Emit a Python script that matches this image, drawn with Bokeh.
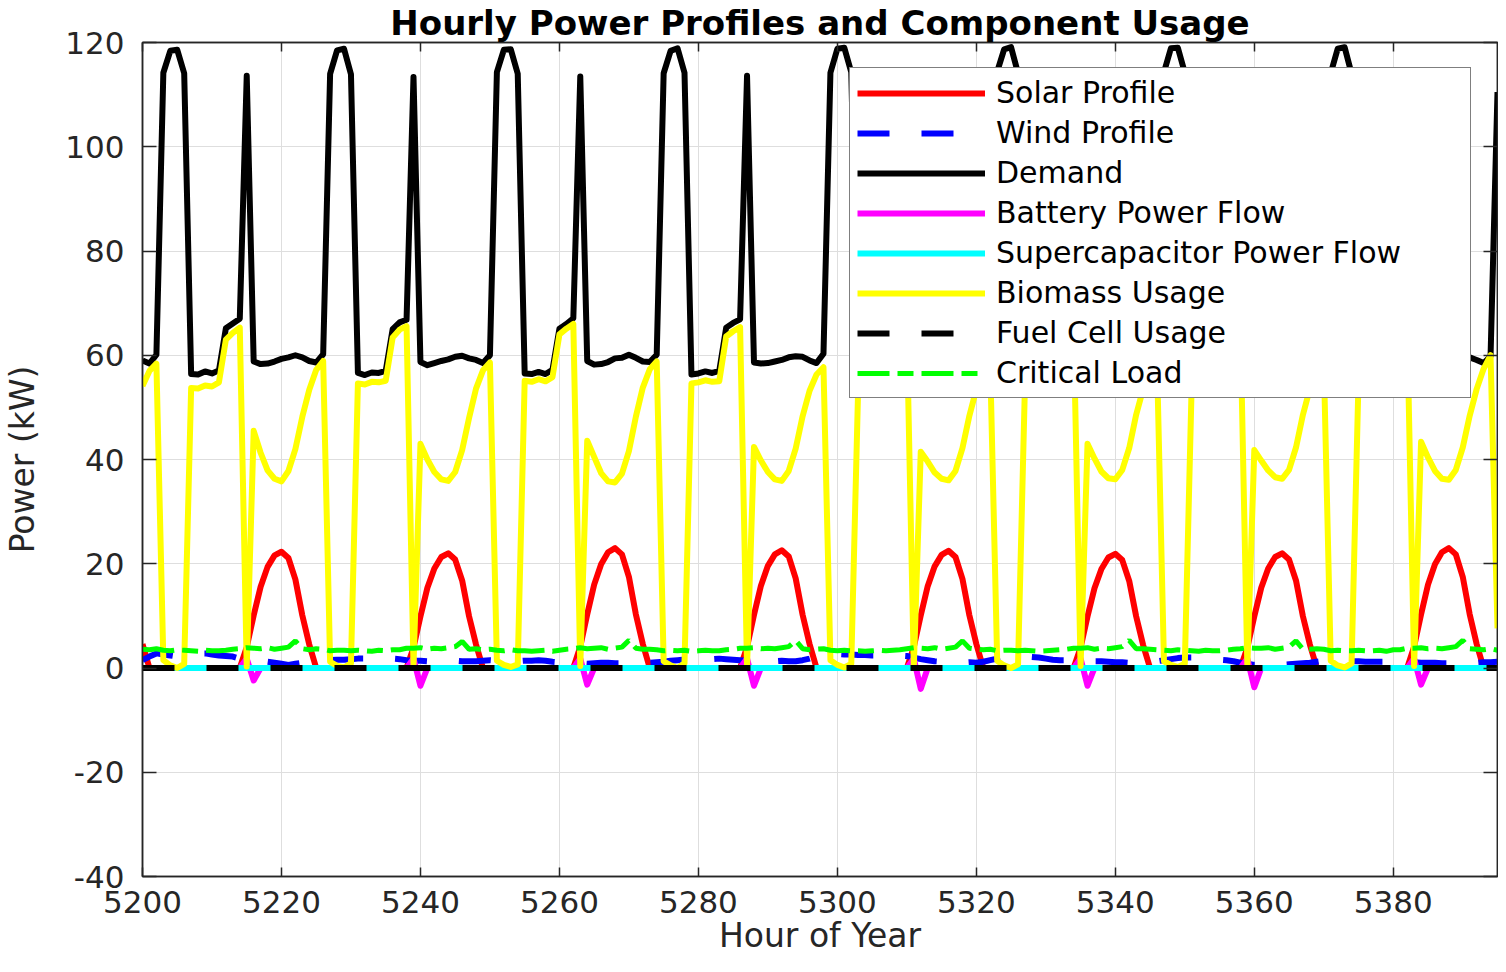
from bokeh.plotting import figure
from bokeh.models import Range1d, LinearAxis, FixedTicker, Legend, LegendItem
from bokeh.embed import file_html
from bokeh.resources import INLINE

# ---------------- data (hour of year 5200 .. 5395) ----------------
hours = list(range(5200, 5396))

solar = [
    4.6, 0.0, 0.0, 0.0, 0.0, 0.0, 0.0, 0.0, 0.0, 0.0, 0.0, 0.0, 0.0, 0.0, 0.0, 4.0, 10.1, 15.6, 19.4, 21.6, 22.3, 21.1, 17.0, 10.1,
    4.5, 0.0, 0.0, 0.0, 0.0, 0.0, 0.0, 0.0, 0.0, 0.0, 0.0, 0.0, 0.0, 0.0, 0.0, 3.9, 9.9, 15.4, 19.1, 21.3, 22.0, 20.8, 16.8, 9.9,
    4.5, 0.0, 0.0, 0.0, 0.0, 0.0, 0.0, 0.0, 0.0, 0.0, 0.0, 0.0, 0.0, 0.0, 0.0, 4.1, 10.3, 16.0, 19.9, 22.2, 23.0, 21.8, 17.5, 10.3,
    4.6, 0.0, 0.0, 0.0, 0.0, 0.0, 0.0, 0.0, 0.0, 0.0, 0.0, 0.0, 0.0, 0.0, 0.0, 4.0, 10.2, 15.8, 19.6, 21.8, 22.6, 21.4, 17.2, 10.2,
    4.6, 0.0, 0.0, 0.0, 0.0, 0.0, 0.0, 0.0, 0.0, 0.0, 0.0, 0.0, 0.0, 0.0, 0.0, 4.0, 10.1, 15.7, 19.5, 21.7, 22.5, 21.3, 17.1, 10.1,
    4.6, 0.0, 0.0, 0.0, 0.0, 0.0, 0.0, 0.0, 0.0, 0.0, 0.0, 0.0, 0.0, 0.0, 0.0, 3.9, 9.9, 15.3, 19.0, 21.2, 21.9, 20.7, 16.7, 9.9,
    4.4, 0.0, 0.0, 0.0, 0.0, 0.0, 0.0, 0.0, 0.0, 0.0, 0.0, 0.0, 0.0, 0.0, 0.0, 3.9, 9.9, 15.4, 19.1, 21.3, 22.0, 20.8, 16.8, 9.9,
    4.5, 0.0, 0.0, 0.0, 0.0, 0.0, 0.0, 0.0, 0.0, 0.0, 0.0, 0.0, 0.0, 0.0, 0.0, 4.1, 10.3, 16.0, 19.9, 22.2, 23.0, 21.8, 17.5, 10.3,
    4.6, 0.0, 0.0, 0.0,
]

wind = [
    1.5, 2.2, 2.8, 2.6, 2.4, 2.2, 2.3, 2.5, 2.8, 2.8, 2.6, 2.4, 2.3, 2.2, 1.8, 1.6, 1.5, 1.4, 1.2, 1.0, 0.8, 0.6, 0.8, 1.0,
    1.2, 1.3, 1.4, 1.5, 1.6, 1.6, 1.7, 1.8, 1.8, 1.7, 1.8, 1.9, 1.8, 1.7, 1.5, 1.4, 1.4, 1.3, 1.2, 1.3, 1.4, 1.4, 1.3, 1.3,
    1.3, 1.4, 1.5, 1.4, 1.4, 1.3, 1.3, 1.4, 1.4, 1.5, 1.4, 1.2, 1.1, 1.0, 1.0, 0.9, 0.8, 0.9, 1.0, 1.0, 0.9, 0.9, 0.9, 1.0,
    0.9, 1.0, 1.1, 1.2, 1.4, 1.5, 1.6, 1.7, 1.7, 1.7, 1.7, 1.8, 1.7, 1.6, 1.5, 1.4, 1.4, 1.3, 1.3, 1.3, 1.4, 1.3, 1.3, 1.5,
    1.8, 2.2, 2.5, 2.6, 2.7, 2.6, 2.6, 2.5, 2.5, 2.4, 2.4, 2.4, 2.5, 2.4, 2.3, 2.0, 1.7, 1.5, 1.3, 1.2, 1.0, 1.0, 1.0, 1.1,
    1.0, 1.2, 1.5, 1.8, 2.0, 2.3, 2.3, 2.2, 2.1, 2.0, 1.8, 1.6, 1.5, 1.5, 1.4, 1.4, 1.4, 1.3, 1.3, 1.2, 1.1, 1.1, 1.0, 1.0,
    1.1, 1.2, 1.3, 1.5, 1.7, 1.9, 2.0, 2.0, 1.9, 1.9, 1.8, 1.6, 1.5, 1.3, 1.0, 0.8, 0.6, 0.6, 0.6, 0.6, 0.6, 0.7, 0.8, 0.9,
    1.0, 1.2, 1.4, 1.4, 1.4, 1.3, 1.3, 1.3, 1.2, 1.2, 1.2, 1.2, 1.2, 1.2, 1.1, 1.1, 1.0, 1.0, 1.0, 0.9, 0.9, 0.9, 1.0, 1.0,
    1.0, 1.1, 1.1, 1.2,
]

demand = [
    59.0, 58.4, 60.1, 114.2, 118.4, 118.6, 114.1, 56.4, 56.3, 56.9, 56.5, 57.1, 65.2, 66.1, 67.0, 113.6, 58.8, 58.3, 58.4, 58.8, 59.3, 59.6, 60.0, 59.6,
    58.9, 58.6, 60.2, 114.0, 118.5, 118.8, 113.9, 56.6, 56.2, 56.7, 56.6, 57.0, 65.0, 66.3, 66.8, 113.4, 58.7, 58.1, 58.5, 58.9, 59.2, 59.7, 59.9, 59.4,
    59.1, 58.5, 60.0, 114.3, 118.6, 118.7, 114.0, 56.5, 56.4, 56.8, 56.4, 57.2, 65.1, 66.0, 67.1, 113.5, 58.9, 58.2, 58.3, 58.7, 59.4, 59.5, 60.1, 59.5,
    58.8, 58.7, 60.1, 114.1, 118.4, 118.9, 114.2, 56.3, 56.5, 56.9, 56.6, 57.0, 65.3, 66.2, 66.9, 113.6, 58.6, 58.4, 58.5, 58.8, 59.1, 59.6, 59.8, 59.7,
    59.0, 58.5, 60.3, 114.2, 118.8, 119.0, 114.3, 56.6, 56.3, 56.7, 56.5, 57.1, 65.0, 66.1, 67.0, 113.5, 58.7, 58.2, 58.4, 58.9, 59.3, 59.5, 60.0, 59.5,
    59.1, 58.6, 60.2, 114.4, 118.7, 119.1, 114.1, 56.4, 56.4, 56.8, 56.6, 57.0, 65.2, 66.3, 67.1, 113.4, 58.8, 58.3, 58.6, 58.8, 59.2, 59.7, 59.9, 59.6,
    58.9, 58.4, 60.0, 114.3, 118.9, 119.0, 114.2, 56.5, 56.2, 56.9, 56.5, 57.2, 65.1, 66.0, 66.9, 113.6, 58.6, 58.1, 58.5, 58.9, 59.4, 59.6, 60.1, 59.4,
    59.0, 58.7, 60.1, 114.1, 118.8, 119.1, 114.0, 56.6, 56.3, 56.7, 56.6, 57.0, 65.3, 66.2, 67.0, 113.5, 58.7, 58.3, 58.4, 58.7, 59.3, 59.5, 59.9, 59.6,
    59.1, 58.5, 59.8, 110.5,
]

battery = [
    0, 0, 0, 0, 0, 0, 0, 0, 0, 0, 0, 0, 0, 0, 0, 1.8, -2.4, 0, 0, 0, 0, 0, 0, 0,
    0, 0, 0, 0, 0, 0, 0, 0, 0, 0, 0, 0, 0, 0, 0, 1.8, -3.4, 0, 0, 0, 0, 0, 0, 0,
    0, 0, 0, 0, 0, 0, 0, 0, 0, 0, 0, 0, 0, 0, 0, 1.8, -3.2, 0, 0, 0, 0, 0, 0, 0,
    0, 0, 0, 0, 0, 0, 0, 0, 0, 0, 0, 0, 0, 0, 0, 1.8, -3.4, 0, 0, 0, 0, 0, 0, 0,
    0, 0, 0, 0, 0, 0, 0, 0, 0, 0, 0, 0, 0, 0, 0, 1.8, -4.0, 0, 0, 0, 0, 0, 0, 0,
    0, 0, 0, 0, 0, 0, 0, 0, 0, 0, 0, 0, 0, 0, 0, 1.8, -3.4, 0, 0, 0, 0, 0, 0, 0,
    0, 0, 0, 0, 0, 0, 0, 0, 0, 0, 0, 0, 0, 0, 0, 1.8, -3.7, 0, 0, 0, 0, 0, 0, 0,
    0, 0, 0, 0, 0, 0, 0, 0, 0, 0, 0, 0, 0, 0, 0, 1.8, -3.2, 0, 0, 0, 0, 0, 0, 0,
    0, 0, 0, 0,
]

supercap = [
    0, 0, 0, 0, 0, 0, 0, 0, 0, 0, 0, 0, 0, 0, 0, 0, 0, 0, 0, 0, 0, 0, 0, 0,
    0, 0, 0, 0, 0, 0, 0, 0, 0, 0, 0, 0, 0, 0, 0, 0, 0, 0, 0, 0, 0, 0, 0, 0,
    0, 0, 0, 0, 0, 0, 0, 0, 0, 0, 0, 0, 0, 0, 0, 0, 0, 0, 0, 0, 0, 0, 0, 0,
    0, 0, 0, 0, 0, 0, 0, 0, 0, 0, 0, 0, 0, 0, 0, 0, 0, 0, 0, 0, 0, 0, 0, 0,
    0, 0, 0, 0, 0, 0, 0, 0, 0, 0, 0, 0, 0, 0, 0, 0, 0, 0, 0, 0, 0, 0, 0, 0,
    0, 0, 0, 0, 0, 0, 0, 0, 0, 0, 0, 0, 0, 0, 0, 0, 0, 0, 0, 0, 0, 0, 0, 0,
    0, 0, 0, 0, 0, 0, 0, 0, 0, 0, 0, 0, 0, 0, 0, 0, 0, 0, 0, 0, 0, 0, 0, 0,
    0, 0, 0, 0, 0, 0, 0, 0, 0, 0, 0, 0, 0, 0, 0, 0, 0, 0, 0, 0, 0, 0, 0, 0,
    0, 0, 0, 0,
]

biomass = [
    54.1, 57.0, 58.4, 1.5, 0.5, 0.0, 0.8, 53.7, 53.6, 54.2, 54.0, 54.8, 63.0, 64.3, 65.3, 0.3, 45.5, 41.3, 37.9, 36.3, 35.8, 37.8, 42.0, 48.2,
    53.4, 57.2, 58.9, 1.2, 0.4, 0.1, 0.9, 54.6, 54.4, 54.9, 54.8, 55.1, 63.4, 64.9, 65.6, 0.5, 43.0, 40.0, 37.6, 36.2, 35.9, 37.6, 41.8, 48.0,
    53.6, 57.1, 58.6, 1.4, 0.6, 0.2, 0.7, 55.1, 54.9, 55.4, 55.0, 55.8, 64.0, 65.1, 66.0, 0.4, 43.6, 40.5, 37.4, 35.8, 35.6, 37.3, 41.6, 48.2,
    53.8, 57.3, 58.8, 1.3, 0.5, 0.0, 0.9, 54.6, 54.8, 55.2, 54.9, 55.0, 63.6, 64.6, 65.4, 0.3, 42.4, 39.8, 37.6, 36.2, 35.9, 37.8, 42.1, 48.3,
    53.2, 56.3, 57.7, 1.5, 0.6, 0.1, 0.8, 54.1, 53.9, 54.3, 54.1, 54.7, 62.5, 63.8, 64.7, 0.2, 41.5, 39.6, 37.5, 36.3, 36.0, 37.8, 42.2, 48.4,
    53.5, 57.2, 58.0, 1.4, 0.5, 0.0, 0.7, 54.6, 54.6, 55.3, 55.2, 55.6, 63.6, 65.0, 65.7, 0.4, 43.0, 40.2, 37.7, 36.4, 36.2, 38.0, 42.2, 48.6,
    53.5, 57.3, 58.7, 1.3, 0.6, 0.2, 0.8, 54.9, 54.8, 55.4, 55.2, 55.6, 63.7, 64.6, 65.5, 0.3, 41.8, 39.8, 37.9, 36.6, 36.3, 38.0, 42.3, 48.6,
    53.6, 57.5, 58.9, 1.4, 0.5, 0.1, 0.9, 55.3, 55.1, 55.6, 55.4, 55.9, 64.3, 65.2, 65.9, 0.4, 43.4, 40.4, 37.8, 36.3, 36.1, 38.0, 42.3, 48.4,
    53.5, 57.4, 60.0, 7.6,
]

fuel_cell = [
    0, 0, 0, 0, 0, 0, 0, 0, 0, 0, 0, 0, 0, 0, 0, 0, 0, 0, 0, 0, 0, 0, 0, 0,
    0, 0, 0, 0, 0, 0, 0, 0, 0, 0, 0, 0, 0, 0, 0, 0, 0, 0, 0, 0, 0, 0, 0, 0,
    0, 0, 0, 0, 0, 0, 0, 0, 0, 0, 0, 0, 0, 0, 0, 0, 0, 0, 0, 0, 0, 0, 0, 0,
    0, 0, 0, 0, 0, 0, 0, 0, 0, 0, 0, 0, 0, 0, 0, 0, 0, 0, 0, 0, 0, 0, 0, 0,
    0, 0, 0, 0, 0, 0, 0, 0, 0, 0, 0, 0, 0, 0, 0, 0, 0, 0, 0, 0, 0, 0, 0, 0,
    0, 0, 0, 0, 0, 0, 0, 0, 0, 0, 0, 0, 0, 0, 0, 0, 0, 0, 0, 0, 0, 0, 0, 0,
    0, 0, 0, 0, 0, 0, 0, 0, 0, 0, 0, 0, 0, 0, 0, 0, 0, 0, 0, 0, 0, 0, 0, 0,
    0, 0, 0, 0, 0, 0, 0, 0, 0, 0, 0, 0, 0, 0, 0, 0, 0, 0, 0, 0, 0, 0, 0, 0,
    0, 0, 0, 0,
]

critical = [
    3.6, 3.5, 3.7, 3.4, 3.3, 3.5, 3.4, 3.3, 3.2, 3.4, 3.3, 3.3, 3.4, 3.6, 3.7, 3.9, 3.8, 3.7, 3.9, 3.6, 3.8, 4.0, 5.2, 3.7,
    3.5, 3.7, 3.6, 3.3, 3.4, 3.4, 3.3, 3.4, 3.3, 3.2, 3.4, 3.3, 3.5, 3.5, 3.8, 3.8, 3.9, 3.6, 3.8, 3.7, 3.9, 4.1, 5.1, 3.6,
    3.7, 3.5, 3.6, 3.4, 3.3, 3.5, 3.3, 3.3, 3.2, 3.3, 3.4, 3.2, 3.4, 3.6, 3.7, 3.9, 3.7, 3.8, 3.9, 3.6, 3.8, 4.0, 5.3, 3.8,
    3.6, 3.6, 3.5, 3.3, 3.4, 3.3, 3.4, 3.2, 3.3, 3.4, 3.3, 3.3, 3.5, 3.6, 3.8, 3.8, 3.9, 3.7, 3.8, 3.7, 3.9, 4.1, 5.3, 3.7,
    3.5, 3.6, 3.7, 3.4, 3.3, 3.4, 3.3, 3.3, 3.2, 3.3, 3.4, 3.3, 3.4, 3.5, 3.7, 3.9, 3.8, 3.7, 3.9, 3.6, 3.8, 4.0, 5.2, 3.8,
    3.6, 3.5, 3.6, 3.3, 3.4, 3.4, 3.3, 3.4, 3.3, 3.2, 3.3, 3.4, 3.5, 3.6, 3.8, 3.8, 3.9, 3.6, 3.8, 3.7, 3.9, 4.1, 5.3, 3.7,
    3.7, 3.6, 3.5, 3.4, 3.3, 3.5, 3.4, 3.3, 3.2, 3.4, 3.3, 3.3, 3.4, 3.6, 3.7, 3.9, 3.8, 3.8, 3.9, 3.6, 3.8, 4.0, 5.2, 3.6,
    3.6, 3.7, 3.6, 3.3, 3.4, 3.3, 3.3, 3.4, 3.3, 3.3, 3.4, 3.2, 3.5, 3.5, 3.8, 3.8, 3.9, 3.7, 3.8, 3.7, 3.9, 4.1, 5.3, 3.7,
    3.6, 3.5, 3.7, 3.4,
]

x_ticks = [5200, 5220, 5240, 5260, 5280, 5300, 5320, 5340, 5360, 5380]
y_ticks = [-40, -20, 0, 20, 40, 60, 80, 100, 120]
y_tick_labels = {-40: "-40", -20: "-20"}

for name, arr in [("solar", solar), ("wind", wind), ("demand", demand), ("battery", battery),
                  ("supercap", supercap), ("biomass", biomass), ("fuel_cell", fuel_cell),
                  ("critical", critical)]:
    assert len(arr) == len(hours), (name, len(arr))

# ---------------- figure ----------------
FONT = "DejaVu Sans"
AX = "#262626"

p = figure(width=1498, height=964, output_backend="svg", toolbar_location=None,
           x_range=Range1d(5200, 5395), y_range=Range1d(-40, 120),
           min_border_left=139, min_border_right=1, min_border_top=34, min_border_bottom=88,
           title="Hourly Power Profiles and Component Usage")
p.background_fill_color = "white"
p.border_fill_color = "white"
p.outline_line_color = AX
p.outline_line_width = 1.5

p.title.align = "center"
p.title.text_font = FONT
p.title.text_font_size = "34px"
p.title.text_font_style = "bold"
p.title.text_color = "black"
p.title.standoff = 0
p.title.offset = 0

p.xaxis.ticker = FixedTicker(ticks=x_ticks)
p.yaxis.ticker = FixedTicker(ticks=y_ticks)

for ax, tin in ((p.xaxis[0], 9), (p.yaxis[0], 14)):
    ax.axis_line_color = AX
    ax.axis_line_width = 1.5
    ax.major_tick_line_color = AX
    ax.major_tick_line_width = 1.5
    ax.major_tick_in = tin
    ax.major_tick_out = 0
    ax.minor_tick_in = 0
    ax.minor_tick_out = 0
    ax.major_label_text_font = FONT
    ax.major_label_text_font_size = "31px"
    ax.major_label_text_color = AX
    ax.axis_label_text_font = FONT
    ax.axis_label_text_font_style = "normal"
    ax.axis_label_text_color = AX

p.xaxis[0].axis_label = "Hour of Year"
p.xaxis[0].axis_label_text_font_size = "33px"
p.xaxis[0].major_label_standoff = 14
p.xaxis[0].axis_label_standoff = 0

p.yaxis[0].major_label_overrides = y_tick_labels
p.yaxis[0].axis_label = "Power (kW)"
p.yaxis[0].axis_label_text_font_size = "33px"
p.yaxis[0].major_label_standoff = 18
p.yaxis[0].axis_label_standoff = 20

# tick marks on the top and right sides (MATLAB box style), no labels
for loc, ticks, tin in (("right", y_ticks, 14), ("above", x_ticks, 9)):
    ax = LinearAxis(ticker=FixedTicker(ticks=ticks),
                    major_label_text_color=None, major_label_standoff=0,
                    major_tick_in=tin, major_tick_out=0, minor_tick_in=0, minor_tick_out=0,
                    axis_line_color=AX, axis_line_width=1.5,
                    major_tick_line_color=AX, major_tick_line_width=1.5)
    p.add_layout(ax, loc)

p.xgrid.ticker = FixedTicker(ticks=x_ticks)
p.ygrid.ticker = FixedTicker(ticks=y_ticks)
p.xgrid.grid_line_color = "#dedede"
p.ygrid.grid_line_color = "#dedede"
p.xgrid.grid_line_width = 1
p.ygrid.grid_line_width = 1

LW = 6
r_solar = p.line(hours, solar, line_color="#ff0000", line_width=LW, line_join="round")
r_wind = p.line(hours, wind, line_color="#0000ff", line_width=LW, line_dash="32 32")
r_demand = p.line(hours, demand, line_color="#000000", line_width=LW, line_join="round")
r_batt = p.line(hours, battery, line_color="#ff00ff", line_width=LW, line_join="round")
r_sc = p.line(hours, supercap, line_color="#00ffff", line_width=LW)
r_bio = p.line(hours, biomass, line_color="#ffff00", line_width=LW, line_join="round")
r_fc = p.line(hours, fuel_cell, line_color="#000000", line_width=LW, line_dash="32 32")
r_cl = p.line(hours, critical, line_color="#00ff00", line_width=5, line_dash="32 8 16 8")

legend = Legend(items=[
    LegendItem(label="Solar Profile", renderers=[r_solar]),
    LegendItem(label="Wind Profile", renderers=[r_wind]),
    LegendItem(label="Demand", renderers=[r_demand]),
    LegendItem(label="Battery Power Flow", renderers=[r_batt]),
    LegendItem(label="Supercapacitor Power Flow", renderers=[r_sc]),
    LegendItem(label="Biomass Usage", renderers=[r_bio]),
    LegendItem(label="Fuel Cell Usage", renderers=[r_fc]),
    LegendItem(label="Critical Load", renderers=[r_cl]),
], location=(707, 478))
legend.margin = 0
legend.padding = 7
legend.spacing = 5
legend.glyph_width = 128
legend.glyph_height = 24
legend.label_height = 24
legend.label_standoff = 11
legend.label_width = 467
legend.label_text_font = FONT
legend.label_text_font_size = "30px"
legend.label_text_color = "black"
legend.border_line_color = "black"
legend.border_line_width = 1.5
legend.background_fill_color = "white"
legend.background_fill_alpha = 1.0
p.add_layout(legend)

open("out.html", "w").write(file_html(p, INLINE))
